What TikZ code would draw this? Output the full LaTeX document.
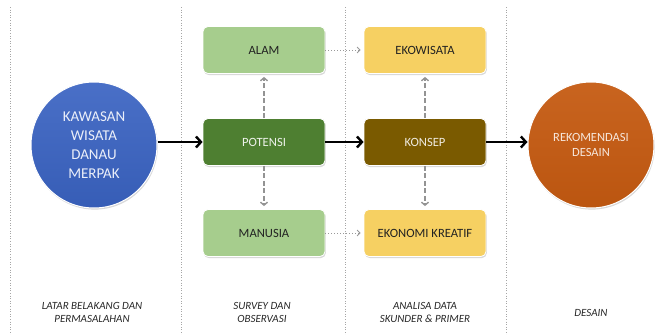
\documentclass[tikz,border=0pt]{standalone}
\usepackage{fontspec}
\setmainfont{Carlito}
\usetikzlibrary{arrows.meta,positioning,shadows}

\definecolor{kreisBlau}{HTML}{3A63C2}
\definecolor{kreisOrange}{HTML}{C55A11}
\definecolor{gruenHell}{HTML}{A6CD8D}
\definecolor{gruenDunkel}{HTML}{4E7F31}
\definecolor{gelbHell}{HTML}{F6D062}
\definecolor{braunDunkel}{HTML}{7A5A00}
\definecolor{textDunkel}{HTML}{222222}

\begin{document}
\begin{tikzpicture}[
    x=1pt, y=-1pt,
    box/.style     = {rounded corners=5pt, minimum width=122pt, minimum height=47pt,
                      draw=white, line width=0.8pt,
                      drop shadow={opacity=0.3, shadow xshift=0.8pt, shadow yshift=-1.6pt},
                      font=\fontsize{12.6}{14}\selectfont},
    kreis/.style   = {circle, minimum size=126pt, draw=white, line width=1pt, align=center,
                      drop shadow={opacity=0.3, shadow xshift=0.8pt, shadow yshift=-1.6pt}},
    hauptpfeil/.style  = {line width=2.4pt, -{Straight Barb[length=5pt,width=11pt,line width=2.4pt]}},
    strichpfeil/.style = {gray!85, dash pattern=on 5pt off 2.5pt, line width=1.8pt, shorten >=3pt,
                          -{Straight Barb[length=3pt,width=7pt,line width=1.4pt]}},
    punktpfeil/.style  = {gray!80, dotted, line width=1pt, shorten >=3pt,
                          -{Straight Barb[length=3pt,width=6pt,line width=0.8pt]}},
    trenner/.style = {gray!70, dotted, line width=0.6pt},
    phase/.style   = {font=\itshape\fontsize{11}{13}\selectfont, align=center, text=black!85},
  ]
	\useasboundingbox (0,0) rectangle (665,335);
	
	% Trennlinien der Phasen
	\foreach \x in {10,181,345,506}
		\draw[trenner] (\x,7) -- (\x,335);
	
	% Kreise
	\node[kreis, top color=kreisBlau!92!white, bottom color=kreisBlau!94!black, text=white!90!kreisBlau,
	      font=\fontsize{15}{19}\selectfont] (kawasan) at (94,145) {KAWASAN\\WISATA\\DANAU\\MERPAK};
	\node[kreis, top color=kreisOrange!94!white, bottom color=kreisOrange!95!black, text=white!85!kreisOrange,
	      font=\fontsize{12.5}{15}\selectfont] (rekomendasi) at (591,145) {REKOMENDASI\\DESAIN};
	
	% Kaesten Survey
	\node[box, fill=gruenDunkel, text=white!90!gruenDunkel] (potensi) at (264,142) {POTENSI};
	\node[box, fill=gruenHell, text=textDunkel] (alam) at (264,50) {ALAM};
	\node[box, fill=gruenHell, text=textDunkel] (manusia) at (264,233) {MANUSIA};
	
	% Kaesten Analisa
	\node[box, fill=braunDunkel, text=white!88!braunDunkel] (konsep) at (425,142) {KONSEP};
	\node[box, fill=gelbHell, text=textDunkel] (ekowisata) at (425,50) {EKOWISATA};
	\node[box, fill=gelbHell, text=textDunkel] (ekonomi) at (425,233) {EKONOMI KREATIF};
	
	% Hauptpfeile
	\draw[hauptpfeil] (kawasan.east |- potensi) -- (potensi.west);
	\draw[hauptpfeil] (potensi) -- (konsep);
	\draw[hauptpfeil] (konsep.east) -- (rekomendasi.west |- konsep);
	
	% gestrichelte Pfeile
	\draw[strichpfeil] (potensi) -- (alam);
	\draw[strichpfeil] (potensi) -- (manusia);
	\draw[strichpfeil] (konsep) -- (ekowisata);
	\draw[strichpfeil] (konsep) -- (ekonomi);
	
	% gepunktete Pfeile
	\draw[punktpfeil] (alam) -- (ekowisata);
	\draw[punktpfeil] (manusia) -- (ekonomi);
	
	% Phasen
	\node[phase] (latar) at (92,312.5) {LATAR BELAKANG DAN\\PERMASALAHAN};
	\node[phase] (survey) at (262,312.5) {SURVEY DAN\\OBSERVASI};
	\node[phase] (analisa) at (425,312.5) {ANALISA DATA\\SKUNDER \& PRIMER};
	\node[phase] (desain) at (591,312.5) {DESAIN};
	
\end{tikzpicture}
\end{document}
